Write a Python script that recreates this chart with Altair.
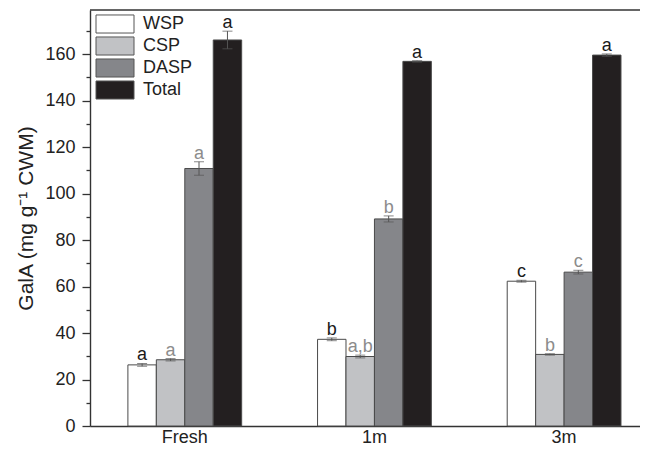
import altair as alt
import pandas as pd

groups = ["Fresh", "1m", "3m"]
fractions = ["WSP", "CSP", "DASP", "Total"]
wsp = [26.3, 37.3, 62.3]
csp = [28.5, 29.9, 30.8]
dasp = [110.8, 89.1, 66.2]
total = [166.1, 156.9, 159.6]
wsp_err = [0.6, 0.6, 0.4]
csp_err = [0.5, 0.6, 0.3]
dasp_err = [2.9, 1.3, 0.8]
total_err = [3.8, 0.3, 0.5]
wsp_let = ["a", "b", "c"]
csp_let = ["a", "a,b", "b"]
dasp_let = ["a", "b", "c"]
total_let = ["a", "a", "a"]
fill_colors = ["#ffffff", "#c1c2c5", "#85868a", "#231f20"]
y_major = [0, 20, 40, 60, 80, 100, 120, 140, 160]
y_minor = [10, 30, 50, 70, 90, 110, 130, 150, 170]

rows = []
series = {"WSP": (wsp, wsp_err, wsp_let), "CSP": (csp, csp_err, csp_let),
          "DASP": (dasp, dasp_err, dasp_let), "Total": (total, total_err, total_let)}
for f in fractions:
    vals, errs, lets = series[f]
    for g, v, e, l in zip(groups, vals, errs, lets):
        rows.append({"group": g, "fraction": f, "value": v, "lo": v - e, "hi": v + e,
                     "letter": l, "dark": f in ("WSP", "Total")})
df = pd.DataFrame(rows)

W, H = 550, 416
FONT = "Liberation Sans"

x_enc = alt.X("group:N", sort=groups, title=None,
              scale=alt.Scale(paddingInner=0.4, paddingOuter=0.15, align=0.666),
              axis=alt.Axis(ticks=False, labelPadding=2, labelFontSize=18, labelFont=FONT,
                            labelColor="#222", domainColor="#333", domainWidth=1.4, labelAngle=0))
xo_enc = alt.XOffset("fraction:N", sort=fractions, scale=alt.Scale(paddingInner=0, paddingOuter=0))
y_scale = alt.Scale(domain=[0, 179], nice=False)

base = alt.Chart(df)

bars = base.mark_bar(stroke="#4a4a4a", strokeWidth=1).encode(
    x=x_enc, xOffset=xo_enc,
    y=alt.Y("value:Q", scale=y_scale, title="GalA (mg g⁻¹ CWM)",
            axis=alt.Axis(values=y_major, tickSize=8, labelPadding=7, labelFontSize=18,
                          labelFont=FONT, labelColor="#222", titleFont=FONT, titleFontSize=21,
                          titleFontWeight="normal", titleColor="#222", titlePadding=8,
                          domainColor="#333", domainWidth=1.4, tickColor="#333", tickWidth=1.3,
                          grid=False, orient="left")),
    fill=alt.Fill("fraction:N", sort=fractions,
                  scale=alt.Scale(domain=fractions, range=fill_colors),
                  legend=alt.Legend(orient="none", legendX=6, legendY=4, title=None,
                                    symbolType="M-2,-0.95H2V0.95H-2Z", symbolSize=361,
                                    symbolStrokeColor="#555", symbolStrokeWidth=1,
                                    symbolOpacity=1, symbolOffset=9,
                                    labelFontSize=18, labelFont=FONT, labelColor="#222",
                                    labelOffset=18, rowPadding=-4.5, padding=0)),
)

minor = base.mark_point(opacity=0).encode(
    x=x_enc, xOffset=xo_enc,
    y=alt.Y("value:Q", scale=y_scale, title=None,
            axis=alt.Axis(values=y_minor, tickSize=4, labels=False, domain=False,
                          tickColor="#333", tickWidth=1.3, grid=False, orient="left")),
)

err_rule = base.mark_rule(color="#555", strokeWidth=1).encode(
    x=x_enc, xOffset=xo_enc, y=alt.Y("lo:Q", scale=y_scale, axis=None), y2="hi:Q")
cap_hi = base.mark_tick(color="#555", size=10, thickness=1, orient="horizontal").encode(
    x=x_enc, xOffset=xo_enc, y=alt.Y("hi:Q", scale=y_scale, axis=None))
cap_lo = base.mark_tick(color="#555", size=10, thickness=1, orient="horizontal").encode(
    x=x_enc, xOffset=xo_enc, y=alt.Y("lo:Q", scale=y_scale, axis=None))

txt_dark = base.transform_filter("datum.dark").mark_text(
    font=FONT, fontSize=18, color="#1a1a1a", baseline="alphabetic", dy=-3).encode(
    x=x_enc, xOffset=xo_enc, y=alt.Y("hi:Q", scale=y_scale, axis=None), text="letter:N")
txt_gray = base.transform_filter("!datum.dark").mark_text(
    font=FONT, fontSize=18, color="#8c8c8c", baseline="alphabetic", dy=-3).encode(
    x=x_enc, xOffset=xo_enc, y=alt.Y("hi:Q", scale=y_scale, axis=None), text="letter:N")

top_line = alt.Chart(pd.DataFrame({"k": [0]})).mark_rule(color="#333", strokeWidth=1.4).encode(
    x=alt.value(0), x2=alt.value(W), y=alt.value(0))

chart = alt.layer(bars, minor, err_rule, cap_hi, cap_lo, txt_dark, txt_gray, top_line).resolve_axis(
    y="independent").properties(
    width=W, height=H,
    autosize=alt.AutoSizeParams(type="none"),
    padding={"left": 82, "top": 2, "right": 0, "bottom": 19},
).configure_view(stroke=None)

chart.save("out.html", embed_options={"renderer": "svg", "actions": False})
